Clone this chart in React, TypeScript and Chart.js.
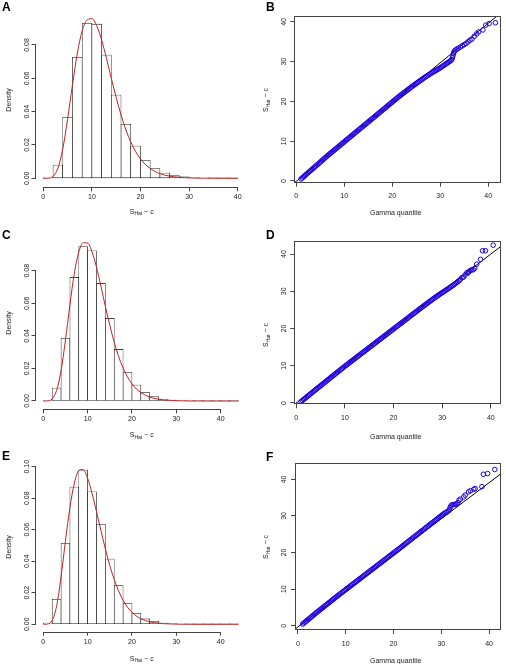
import React, { useEffect, useRef } from 'react';
import { Chart, registerables } from 'chart.js';

Chart.register(...registerables);

const FONT = '"Liberation Sans", Arial, Helvetica, sans-serif';
const TEXT = '#222';
const AXIS = '#444';
const BAR_EDGE = '#000';
const CURVE = 'rgb(190,35,35)';
const QQ_BLUE = 'rgb(30,0,225)';

// ---------- Histogram data ----------
const histMidsA = [1, 3, 5, 7, 9, 11, 13, 15, 17, 19, 21, 23, 25, 27, 29, 31, 33, 35, 37, 39];
const histDensA = [0.0005, 0.008, 0.0366, 0.0726, 0.093, 0.0925, 0.074, 0.05, 0.0324, 0.0194, 0.0108, 0.0059, 0.0032, 0.0017, 0.0009, 0.0004, 0.0002, 0.0001, 0.00005, 0.00002];

const histMidsCE = [1, 3, 5, 7, 9, 11, 13, 15, 17, 19, 21, 23, 25, 27, 29, 31, 33, 35, 37, 39, 41, 43];
const histDensC = [0.0004, 0.008, 0.0385, 0.0759, 0.0949, 0.0923, 0.0722, 0.0507, 0.0317, 0.0176, 0.0098, 0.0051, 0.0027, 0.0012, 0.0006, 0.0003, 0.0001, 0.00005, 0.00003, 0.00002, 0.00001, 0.00001];
const histDensE = [0.0008, 0.0159, 0.0514, 0.0871, 0.0979, 0.0841, 0.0634, 0.0414, 0.0245, 0.0133, 0.007, 0.0034, 0.0019, 0.0008, 0.0004, 0.0002, 0.0001, 0.00005, 0.00003, 0.00002, 0.00001, 0.00001];

// fitted density curves
const curveXA = [0, 1, 2, 3, 4, 5, 6, 7, 8, 9, 10, 11, 12, 13, 14, 15, 16, 17, 18, 19, 20, 21, 22, 23, 24, 25, 26, 27, 28, 29, 30, 31, 32, 33, 34, 35, 36, 37, 38, 39, 40];
const curveYA = [0, 0.0001, 0.0012, 0.006, 0.0175, 0.0355, 0.056, 0.075, 0.0885, 0.095, 0.0958, 0.0915, 0.083, 0.072, 0.06, 0.0485, 0.038, 0.029, 0.0218, 0.016, 0.0116, 0.0083, 0.0059, 0.0041, 0.0028, 0.0019, 0.0013, 0.0009, 0.0006, 0.0004, 0.00026, 0.00017, 0.00011, 0.00007, 0.00005, 0.00003, 0.00002, 0.00001, 0.00001, 0, 0];

const curveXCE = [0, 1, 2, 3, 4, 5, 6, 7, 8, 9, 10, 11, 12, 13, 14, 15, 16, 17, 18, 19, 20, 21, 22, 23, 24, 25, 26, 27, 28, 29, 30, 31, 32, 33, 34, 35, 36, 37, 38, 39, 40, 41, 42, 43, 44];
const curveYC = [0, 0.0001, 0.0013, 0.0065, 0.0185, 0.0375, 0.059, 0.0785, 0.0915, 0.0972, 0.097, 0.0915, 0.0822, 0.0705, 0.058, 0.0465, 0.036, 0.0272, 0.0202, 0.0147, 0.0105, 0.0074, 0.0052, 0.0036, 0.0024, 0.0016, 0.0011, 0.0007, 0.0005, 0.0003, 0.0002, 0.00013, 0.00008, 0.00005, 0.00003, 0.00002, 0.00001, 0.00001, 0, 0, 0, 0, 0, 0, 0];
const curveYE = [0, 0.0002, 0.0025, 0.0115, 0.03, 0.053, 0.074, 0.0895, 0.0975, 0.0982, 0.0925, 0.083, 0.0715, 0.0595, 0.0478, 0.0372, 0.0283, 0.021, 0.0152, 0.0108, 0.0076, 0.0052, 0.0035, 0.0024, 0.0016, 0.001, 0.0007, 0.0004, 0.0003, 0.0002, 0.0001, 0.00007, 0.00004, 0.00002, 0.00001, 0, 0, 0, 0, 0, 0, 0, 0, 0, 0];

const histXTicks = [0, 10, 20, 30, 40];
const histYTicksAC = [0, 0.02, 0.04, 0.06, 0.08];
const histYTicksE = [0, 0.02, 0.04, 0.06, 0.08, 0.1];

// ---------- QQ data ----------
// theoretical gamma quantiles of the dense central part
const qqTheo = [
  1.0, 1.25, 1.5, 1.75, 2.0, 2.25, 2.5, 2.75, 3.0, 3.25, 3.5, 3.75, 4.0, 4.25, 4.5, 4.75, 5.0, 5.25, 5.5, 5.75,
  6.0, 6.25, 6.5, 6.75, 7.0, 7.25, 7.5, 7.75, 8.0, 8.25, 8.5, 8.75, 9.0, 9.25, 9.5, 9.75, 10.0, 10.25, 10.5, 10.75,
  11.0, 11.25, 11.5, 11.75, 12.0, 12.25, 12.5, 12.75, 13.0, 13.25, 13.5, 13.75, 14.0, 14.25, 14.5, 14.75, 15.0, 15.25, 15.5, 15.75,
  16.0, 16.25, 16.5, 16.75, 17.0, 17.25, 17.5, 17.75, 18.0, 18.25, 18.5, 18.75, 19.0, 19.25, 19.5, 19.75, 20.0, 20.25, 20.5, 20.75,
  21.0, 21.25, 21.5, 21.75, 22.0, 22.25, 22.5, 22.75, 23.0, 23.25, 23.5, 23.75, 24.0, 24.25, 24.5, 24.75, 25.0, 25.25, 25.5, 25.75,
  26.0, 26.25, 26.5, 26.75, 27.0, 27.25, 27.5, 27.75, 28.0,
];
// sample quantiles matching qqTheo
const qqSampleB = [
  0.5, 0.77, 1.03, 1.3, 1.57, 1.84, 2.1, 2.37, 2.64, 2.9, 3.17, 3.43, 3.7, 3.96, 4.22, 4.49, 4.76, 5.02, 5.28, 5.55,
  5.82, 6.08, 6.34, 6.6, 6.85, 7.1, 7.35, 7.6, 7.85, 8.1, 8.35, 8.6, 8.85, 9.1, 9.35, 9.6, 9.85, 10.1, 10.35, 10.6,
  10.85, 11.1, 11.35, 11.6, 11.85, 12.1, 12.35, 12.6, 12.85, 13.1, 13.35, 13.6, 13.85, 14.1, 14.35, 14.6, 14.85, 15.1, 15.35, 15.6,
  15.85, 16.1, 16.35, 16.6, 16.85, 17.1, 17.35, 17.6, 17.85, 18.1, 18.35, 18.6, 18.85, 19.1, 19.35, 19.6, 19.85, 20.1, 20.35, 20.6,
  20.85, 21.09, 21.33, 21.57, 21.8, 22.03, 22.26, 22.49, 22.72, 22.95, 23.18, 23.41, 23.65, 23.87, 24.09, 24.31, 24.53, 24.75, 24.96, 25.18,
  25.4, 25.61, 25.82, 26.03, 26.23, 26.43, 26.63, 26.84, 27.0,
];
const qqSampleD = [
  0.4, 0.66, 0.93, 1.19, 1.46, 1.72, 1.99, 2.25, 2.52, 2.78, 3.05, 3.31, 3.58, 3.84, 4.1, 4.37, 4.63, 4.89, 5.16, 5.42,
  5.69, 5.95, 6.21, 6.47, 6.74, 7.0, 7.26, 7.52, 7.79, 8.05, 8.31, 8.57, 8.83, 9.09, 9.35, 9.61, 9.87, 10.12, 10.38, 10.63,
  10.88, 11.13, 11.38, 11.63, 11.88, 12.13, 12.38, 12.63, 12.88, 13.13, 13.38, 13.63, 13.88, 14.13, 14.38, 14.63, 14.88, 15.13, 15.38, 15.63,
  15.88, 16.13, 16.38, 16.63, 16.88, 17.13, 17.38, 17.63, 17.88, 18.13, 18.38, 18.63, 18.88, 19.13, 19.38, 19.63, 19.88, 20.13, 20.38, 20.63,
  20.88, 21.13, 21.38, 21.63, 21.88, 22.13, 22.38, 22.63, 22.88, 23.13, 23.38, 23.63, 23.88, 24.13, 24.38, 24.63, 24.88, 25.13, 25.38, 25.63,
  25.88, 26.12, 26.37, 26.61, 26.86, 27.1, 27.34, 27.58, 27.82,
];
const qqSampleF = [
  0.47, 0.74, 1.01, 1.28, 1.55, 1.82, 2.09, 2.36, 2.63, 2.9, 3.17, 3.44, 3.71, 3.97, 4.23, 4.49, 4.75, 5.01, 5.27, 5.53,
  5.79, 6.05, 6.31, 6.57, 6.83, 7.09, 7.35, 7.61, 7.87, 8.13, 8.38, 8.63, 8.88, 9.13, 9.38, 9.63, 9.88, 10.13, 10.38, 10.63,
  10.88, 11.13, 11.38, 11.63, 11.88, 12.13, 12.38, 12.63, 12.88, 13.13, 13.38, 13.63, 13.88, 14.13, 14.38, 14.63, 14.88, 15.13, 15.38, 15.63,
  15.88, 16.13, 16.38, 16.63, 16.88, 17.13, 17.38, 17.63, 17.88, 18.13, 18.38, 18.63, 18.88, 19.13, 19.38, 19.63, 19.88, 20.13, 20.38, 20.63,
  20.89, 21.14, 21.4, 21.65, 21.91, 22.16, 22.42, 22.67, 22.93, 23.18, 23.44, 23.69, 23.95, 24.2, 24.46, 24.71, 24.97, 25.22, 25.48, 25.73,
  25.99, 26.24, 26.5, 26.75, 27.01, 27.26, 27.52, 27.77, 28.03,
];
// upper tails: [gamma quantile, sample quantile]
const qqTailB: [number, number][] = [
  [28.25, 27.2], [28.5, 27.38], [28.75, 27.55], [29.0, 27.72], [29.25, 27.9], [29.5, 28.08], [29.75, 28.27], [30.0, 28.47],
  [30.25, 28.67], [30.5, 28.88], [30.75, 29.08], [31.0, 29.3], [31.25, 29.5], [31.5, 29.7], [31.75, 29.9], [32.0, 30.1],
  [32.2, 30.3], [32.4, 30.55], [32.55, 31.0], [32.65, 31.5], [32.75, 32.0], [32.85, 32.4], [33.0, 32.7], [33.25, 33.0],
  [33.5, 33.2], [33.8, 33.4], [34.2, 33.7], [34.6, 34.0], [35.0, 34.3], [35.4, 34.6], [35.8, 35.0], [36.2, 35.4],
  [36.6, 35.7], [37.1, 36.4], [37.6, 37.0], [38.0, 37.5], [38.9, 38.0], [39.5, 39.2], [40.2, 39.6], [41.5, 39.8],
];
const qqTailD: [number, number][] = [
  [28.25, 28.06], [28.5, 28.3], [28.75, 28.53], [29.0, 28.76], [29.25, 28.98], [29.5, 29.2], [29.75, 29.42], [30.0, 29.63],
  [30.25, 29.85], [30.5, 30.06], [30.75, 30.28], [31.0, 30.5], [31.25, 30.72], [31.5, 30.94], [31.75, 31.17], [32.0, 31.4],
  [32.25, 31.63], [32.5, 31.87], [32.75, 32.11], [33.0, 32.36], [33.25, 32.62], [33.5, 32.9], [33.8, 33.3], [34.1, 33.7],
  [34.4, 33.8], [34.7, 34.4], [35.1, 35.0], [35.3, 34.9], [35.5, 35.3], [35.8, 35.6], [36.1, 35.8], [36.4, 35.8],
  [36.7, 36.2], [37.1, 37.3], [37.9, 38.6], [38.3, 40.9], [38.9, 40.9], [40.5, 42.4],
];
const qqTailF: [number, number][] = [
  [28.25, 28.28], [28.5, 28.54], [28.75, 28.79], [29.0, 29.05], [29.25, 29.3], [29.5, 29.56], [29.75, 29.82], [30.0, 30.08],
  [30.25, 30.33], [30.5, 30.58], [30.75, 30.8], [31.0, 31.0], [31.25, 31.15], [31.5, 31.4], [31.7, 31.8], [31.85, 32.3],
  [32.0, 32.7], [32.2, 33.0], [32.45, 33.1], [32.7, 33.15], [33.0, 33.2], [33.25, 33.3], [33.5, 33.6], [33.7, 34.3],
  [34.0, 34.6], [34.7, 35.2], [35.0, 35.7], [35.7, 36.6], [36.1, 36.9], [36.8, 37.3], [37.1, 37.5], [38.5, 38.0],
  [38.8, 41.4], [39.7, 41.6], [41.2, 42.7],
];
// reference lines
const qqLineB: [number, number][] = [[-2, -2.07], [46, 45.63]];
const qqLineD: [number, number][] = [[-2, -2], [46, 46]];
const qqLineF: [number, number][] = [[-2, -2.3], [46, 45.0]];
const qqTicks = [0, 10, 20, 30, 40];

// ---------- helpers ----------
type Area = { l: number; t: number; r: number; b: number };

const rAxesPlugin = {
  id: 'rAxes',
  afterDraw(chart: any, _args: any, opts: any) {
    const { ctx, chartArea, scales } = chart;
    ctx.save();
    ctx.strokeStyle = AXIS;
    ctx.lineWidth = 1;
    if (opts.mode === 'box') {
      const l = Math.round(chartArea.left) + 0.5;
      const t = Math.round(chartArea.top) + 0.5;
      const r = Math.round(chartArea.right) - 0.5;
      const b = Math.round(chartArea.bottom) - 0.5;
      ctx.strokeRect(l, t, r - l, b - t);
    } else {
      const xs = scales.x;
      const ys = scales.y;
      const xt = xs.ticks;
      const yt = ys.ticks;
      const yb = Math.round(chartArea.bottom) + 0.5;
      const xl = Math.round(chartArea.left) - 0.5;
      ctx.beginPath();
      ctx.moveTo(xs.getPixelForValue(xt[0].value), yb);
      ctx.lineTo(xs.getPixelForValue(xt[xt.length - 1].value), yb);
      ctx.moveTo(xl, ys.getPixelForValue(yt[0].value));
      ctx.lineTo(xl, ys.getPixelForValue(yt[yt.length - 1].value));
      ctx.stroke();
    }
    ctx.restore();
  },
};

function axisCommon(tickVals: number[]) {
  return {
    type: 'linear' as const,
    offset: false,
    border: { display: false },
    grid: { offset: false, drawOnChartArea: false, drawTicks: true, tickLength: 4, color: AXIS, lineWidth: 1 },
    afterBuildTicks: (s: any) => {
      s.ticks = tickVals.map((v) => ({ value: v }));
    },
  };
}

function makeX(h: number, a: Area, min: number, max: number, tickVals: number[], pad: number) {
  return {
    ...axisCommon(tickVals),
    min,
    max,
    ticks: { autoSkip: false, maxRotation: 0, minRotation: 0, padding: pad, color: TEXT, font: { family: FONT, size: 7 }, callback: (v: any) => String(v) },
    afterFit: (s: any) => {
      s.height = h - a.b;
      s.paddingLeft = 0;
      s.paddingRight = 0;
    },
  };
}

function makeY(a: Area, min: number, max: number, tickVals: number[], fmt: (v: number) => string, pad: number) {
  return {
    ...axisCommon(tickVals),
    min,
    max,
    beginAtZero: false,
    ticks: {
      autoSkip: false,
      minRotation: 90,
      maxRotation: 90,
      crossAlign: 'center' as const,
      padding: pad,
      color: TEXT,
      font: { family: FONT, size: 7 },
      callback: (v: any) => fmt(Number(v)),
    },
    afterFit: (s: any) => {
      s.width = a.l;
      s.paddingTop = 0;
      s.paddingBottom = 0;
    },
  };
}

type HistSpec = {
  mids: number[]; dens: number[]; cx: number[]; cy: number[];
  xMin: number; xMax: number; yMin: number; yMax: number; yTicks: number[];
};

function histConfig(d: HistSpec, a: Area, ox: number, oy: number, w: number, h: number): any {
  const al = { l: a.l - ox, t: a.t - oy, r: a.r - ox, b: a.b - oy };
  return {
    type: 'bar',
    data: {
      datasets: [
        {
          type: 'line',
          data: d.cx.map((x, i) => ({ x, y: d.cy[i] })),
          borderColor: CURVE,
          borderWidth: 1,
          pointRadius: 0,
          cubicInterpolationMode: 'monotone',
          fill: false,
          order: 0,
        },
        {
          type: 'bar',
          data: d.mids.map((x, i) => ({ x, y: d.dens[i] })),
          backgroundColor: '#ffffff',
          borderColor: BAR_EDGE,
          borderWidth: 0.6,
          borderSkipped: false,
          barPercentage: 1,
          categoryPercentage: 1,
          grouped: false,
          order: 1,
        },
      ],
    },
    options: {
      responsive: false,
      animation: false,
      events: [],
      layout: { padding: { left: 0, top: al.t, right: w - al.r, bottom: 0 } },
      plugins: { legend: { display: false }, tooltip: { enabled: false }, rAxes: { mode: 'hist' } },
      scales: {
        x: makeX(h, al, d.xMin, d.xMax, histXTicks, 2),
        y: makeY(al, d.yMin, d.yMax, d.yTicks, (v) => v.toFixed(2), -2.3),
      },
    },
    plugins: [rAxesPlugin],
  };
}

type QQSpec = {
  theo: number[]; sample: number[]; tail: [number, number][]; line: [number, number][];
  xMin: number; xMax: number; yMin: number; yMax: number;
};

function qqConfig(d: QQSpec, a: Area, ox: number, oy: number, w: number, h: number): any {
  const al = { l: a.l - ox, t: a.t - oy, r: a.r - ox, b: a.b - oy };
  const pts = d.theo.map((x, i) => ({ x, y: d.sample[i] })).concat(d.tail.map(([x, y]) => ({ x, y })));
  return {
    type: 'scatter',
    data: {
      datasets: [
        {
          data: pts,
          pointRadius: 2.3,
          pointBorderWidth: 1,
          borderColor: QQ_BLUE,
          pointBorderColor: QQ_BLUE,
          backgroundColor: 'rgba(0,0,0,0)',
          pointBackgroundColor: 'rgba(0,0,0,0)',
          order: 0,
        },
        {
          type: 'line',
          data: d.line.map(([x, y]) => ({ x, y })),
          showLine: true,
          borderColor: '#000',
          borderWidth: 1,
          pointRadius: 0,
          fill: false,
          order: 1,
        },
      ],
    },
    options: {
      responsive: false,
      animation: false,
      events: [],
      layout: { padding: { left: 0, top: al.t, right: w - al.r, bottom: 0 } },
      plugins: { legend: { display: false }, tooltip: { enabled: false }, rAxes: { mode: 'box' } },
      scales: {
        x: makeX(h, al, d.xMin, d.xMax, qqTicks, 5.5),
        y: makeY(al, d.yMin, d.yMax, qqTicks, (v) => String(v), 2.7),
      },
    },
    plugins: [rAxesPlugin],
  };
}

function Panel(props: { ox: number; oy: number; w: number; h: number; make: (ox: number, oy: number, w: number, h: number) => any }) {
  const { ox, oy, w, h, make } = props;
  const ref = useRef<HTMLCanvasElement>(null);
  useEffect(() => {
    if (!ref.current) return;
    const chart = new Chart(ref.current, make(ox, oy, w, h));
    return () => chart.destroy();
  }, []);
  return (
    <canvas
      ref={ref}
      width={w}
      height={h}
      style={{ position: 'absolute', left: ox, top: oy, width: w, height: h, display: 'block' }}
    />
  );
}

function Txt(props: { x: number; y: number; rot?: boolean; children: React.ReactNode }) {
  return (
    <div
      style={{
        position: 'absolute',
        left: props.x,
        top: props.y,
        transform: `translate(-50%, -50%)${props.rot ? ' rotate(-90deg)' : ''}`,
        whiteSpace: 'nowrap',
        fontFamily: FONT,
        fontSize: 7,
        lineHeight: '9px',
        color: TEXT,
      }}
    >
      {props.children}
    </div>
  );
}

function SHat() {
  return (
    <span>
      S<span style={{ fontSize: 5, position: 'relative', top: 1.5 }}>Hat</span> − c
    </span>
  );
}

function Letter(props: { x: number; y: number; t: string }) {
  return (
    <div
      style={{
        position: 'absolute',
        left: props.x,
        top: props.y,
        fontFamily: FONT,
        fontWeight: 'bold',
        fontSize: 12,
        lineHeight: '14px',
        color: '#000',
      }}
    >
      {props.t}
    </div>
  );
}

const specA: HistSpec = { mids: histMidsA, dens: histDensA, cx: curveXA, cy: curveYA, xMin: -1.6, xMax: 41.6, yMin: -0.0054, yMax: 0.0995, yTicks: histYTicksAC };
const specC: HistSpec = { mids: histMidsCE, dens: histDensC, cx: curveXCE, cy: curveYC, xMin: -1.76, xMax: 45.76, yMin: -0.0051, yMax: 0.0995, yTicks: histYTicksAC };
const specE: HistSpec = { mids: histMidsCE, dens: histDensE, cx: curveXCE, cy: curveYE, xMin: -1.76, xMax: 45.76, yMin: -0.0047, yMax: 0.102, yTicks: histYTicksE };

const specB: QQSpec = { theo: qqTheo, sample: qqSampleB, tail: qqTailB, line: qqLineB, xMin: -0.41, xMax: 42.67, yMin: -0.43, yMax: 41.5 };
const specD: QQSpec = { theo: qqTheo, sample: qqSampleD, tail: qqTailD, line: qqLineD, xMin: -0.4, xMax: 42.1, yMin: -0.35, yMax: 43.6 };
const specF: QQSpec = { theo: qqTheo, sample: qqSampleF, tail: qqTailF, line: qqLineF, xMin: -0.62, xMax: 42.5, yMin: -1.17, yMax: 44.4 };

export default function App() {
  return (
    <div style={{ position: 'absolute', left: 0, top: 0, width: 506, height: 664, background: '#fff', overflow: 'hidden' }}>
      <Panel ox={0} oy={0} w={253} h={220} make={(ox, oy, w, h) => histConfig(specA, { l: 35.5, t: 12.5, r: 245.5, b: 187.3 }, ox, oy, w, h)} />
      <Panel ox={253} oy={0} w={253} h={220} make={(ox, oy, w, h) => qqConfig(specB, { l: 294.3, t: 16, r: 503.7, b: 182.7 }, ox, oy, w, h)} />
      <Panel ox={0} oy={220} w={253} h={220} make={(ox, oy, w, h) => histConfig(specC, { l: 35.5, t: 239, r: 246.2, b: 409.3 }, ox, oy, w, h)} />
      <Panel ox={253} oy={220} w={253} h={220} make={(ox, oy, w, h) => qqConfig(specD, { l: 294.3, t: 240.7, r: 504.7, b: 404.3 }, ox, oy, w, h)} />
      <Panel ox={0} oy={440} w={253} h={224} make={(ox, oy, w, h) => histConfig(specE, { l: 35.5, t: 463.5, r: 246.2, b: 631.7 }, ox, oy, w, h)} />
      <Panel ox={253} oy={440} w={253} h={224} make={(ox, oy, w, h) => qqConfig(specF, { l: 295, t: 463.3, r: 504.7, b: 630 }, ox, oy, w, h)} />

      <Letter x={2} y={0} t="A" />
      <Letter x={266} y={0} t="B" />
      <Letter x={2} y={228} t="C" />
      <Letter x={266} y={228} t="D" />
      <Letter x={2} y={449} t="E" />
      <Letter x={266} y={450} t="F" />

      <Txt x={7.5} y={100} rot>Density</Txt>
      <Txt x={7.5} y={323} rot>Density</Txt>
      <Txt x={7.5} y={547} rot>Density</Txt>

      <Txt x={141.7} y={211.7}><SHat /></Txt>
      <Txt x={141.7} y={435}><SHat /></Txt>
      <Txt x={141.7} y={658.5}><SHat /></Txt>

      <Txt x={265.7} y={100} rot><SHat /></Txt>
      <Txt x={265.7} y={335} rot><SHat /></Txt>
      <Txt x={265.7} y={547} rot><SHat /></Txt>

      <Txt x={395.7} y={212}>Gamma quantile</Txt>
      <Txt x={395.7} y={436}>Gamma quantile</Txt>
      <Txt x={395.7} y={659.5}>Gamma quantile</Txt>
    </div>
  );
}
